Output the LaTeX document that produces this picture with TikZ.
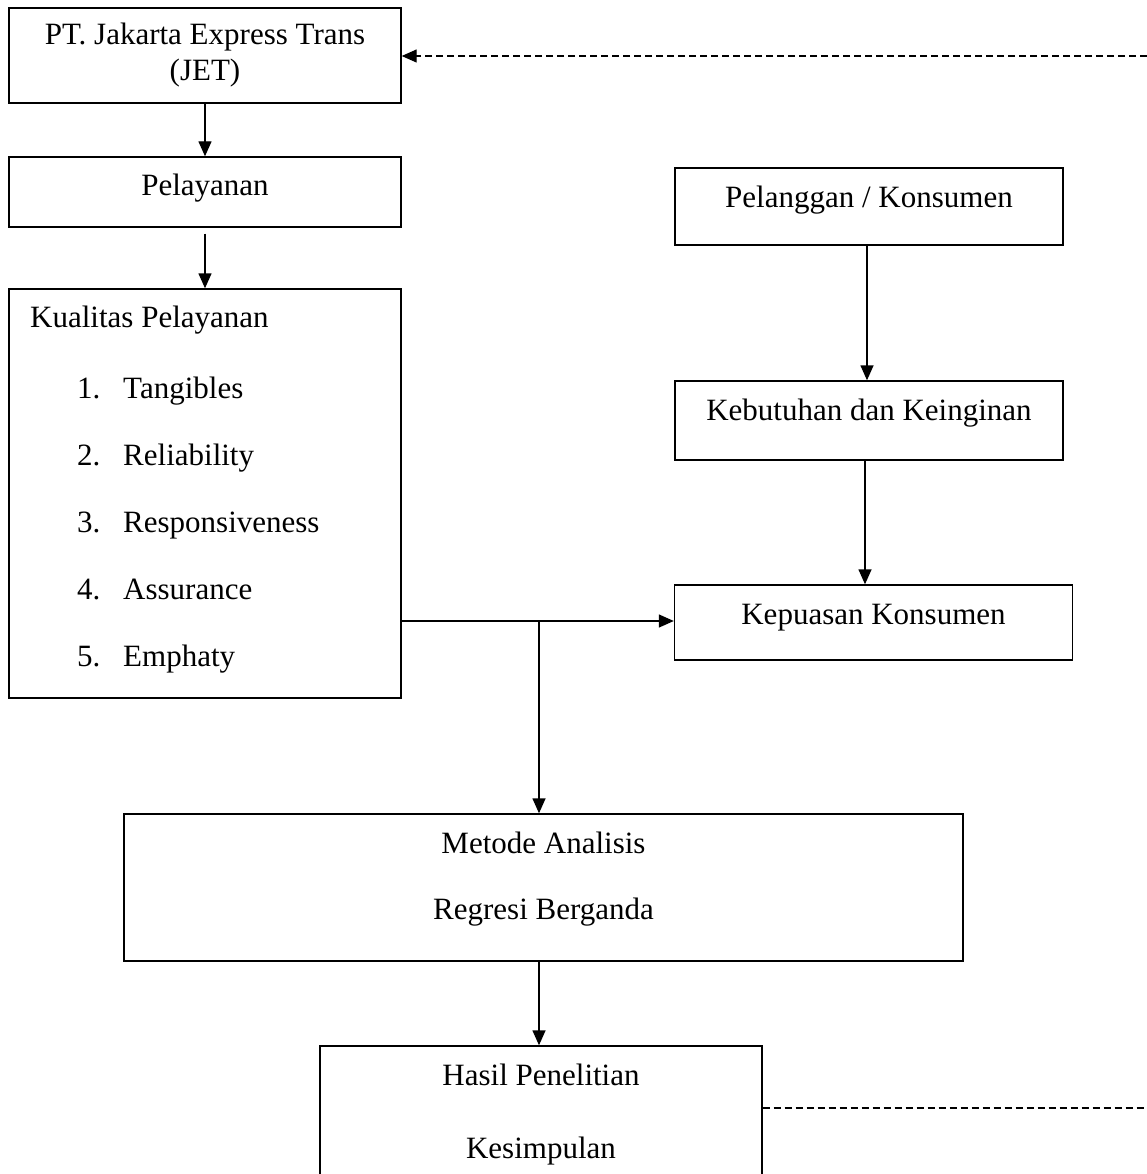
\documentclass[tikz,border=0pt]{standalone}
\usepackage{fontspec}
\setmainfont{Liberation Serif}
\usetikzlibrary{arrows.meta}

\begin{document}
\begin{tikzpicture}[x=1pt, y=-1pt,
    box/.style={draw, line width=1.4pt, rectangle, inner sep=0pt},
    arr/.style={-{Triangle[length=15pt,width=13pt]}, line width=1.4pt},
    fb/.style={line width=1.3pt, dash pattern=on 7pt off 4pt},
    font=\fontsize{31}{36}\selectfont]
        \clip (0,0) rectangle (1147,1174);
        \fill[white] (0,0) rectangle (1147,1174);

        % left column
        \node[box, align=center, minimum width=392pt, minimum height=95pt] (jet) at (205,55.5) {PT. Jakarta Express Trans\\(JET)};
        \node[box, minimum width=392pt, text height=39pt, text depth=31pt] (pel) at (205,192) {Pelayanan};
        \node[box, minimum width=392pt, minimum height=409pt] (kual) at (205,493.5) {};
        \node[anchor=base west, inner sep=0pt] (kualt) at (30,327) {Kualitas Pelayanan};
        \foreach \i/\dim in {1/Tangibles, 2/Reliability, 3/Responsiveness, 4/Assurance, 5/Emphaty} {
            \node[anchor=base west, inner sep=0pt] (num\i) at (77,{398+67*(\i-1)}) {\i.};
            \node[anchor=base west, inner sep=0pt] (dim\i) at (123,{398+67*(\i-1)}) {\dim};
        }

        % right column
        \node[box, minimum width=388pt, text height=40pt, text depth=37pt] (plg) at (869,206.5) {Pelanggan / Konsumen};
        \node[box, minimum width=388pt, text height=39pt, text depth=40pt] (keb) at (869,420.5) {Kebutuhan dan Keinginan};
        \node[box, minimum width=398pt, text height=39pt, text depth=36pt] (kep) at (873.5,622.5) {Kepuasan Konsumen};

        % bottom
        \node[box, minimum width=839pt, minimum height=147pt] (met) at (543.5,887.5) {};
        \node[align=center, inner sep=0pt] (metT) at (543.5,879) {Metode Analisis\\[30pt]Regresi Berganda};
        \node[box, align=center, minimum width=442pt, minimum height=137pt] (has) at (541,1114.5) {Hasil Penelitian\\[37pt]Kesimpulan};

        \coordinate (j) at (539,621);
        \coordinate (fbtop) at (1147,56);
        \coordinate (fbbot) at (1147,1108);

        \draw[arr] (jet.south) -- (pel.north);
        \draw[arr, shorten <=6pt] (pel.south) -- (kual.north);
        \draw[arr] (plg.south -| 867,0) -- (keb.north -| 867,0);
        \draw[arr] (keb.south -| 865,0) -- (kep.north -| 865,0);
        \draw[arr] (kual.east |- j) -- (kep.west |- j);
        \draw[arr] (j) -- (j |- met.north);
        \draw[arr] (met.south -| j) -- (j |- has.north);

        % feedback
        \draw[fb] (has.east |- fbbot) -- (fbbot);
        \draw[fb, -{Triangle[length=15pt,width=13pt]}] (fbtop) -- (jet.east |- fbtop);
      \end{tikzpicture}
\end{document}
